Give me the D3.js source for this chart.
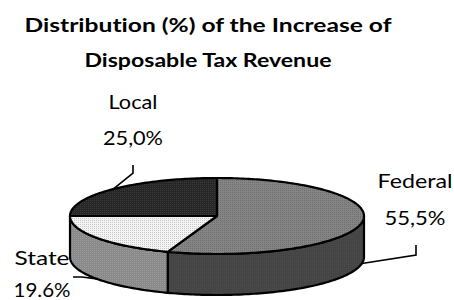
<!DOCTYPE html>
<html>
<head>
<meta charset="utf-8">
<script src="https://cdn.jsdelivr.net/npm/d3@7"></script>
<style>
body { margin: 0; background: #fff; }
svg { display: block; }
text { font-family: Lato, "DejaVu Sans", sans-serif; fill: #000; font-variant-ligatures: none; }
</style>
</head>
<body>
<svg id="chart" width="454" height="300"></svg>
<script>

// chart data
var titleLines = [ "Distribution (%) of the Increase of", "Disposable Tax Revenue" ];
var categories = [ "Federal", "State", "Local" ];
var shares = [ 55.5, 19.6, 25.0 ];
var shareLabels = [ "55,5%", "19.6%", "25,0%" ];

var width = 454, height = 300;
var cx = 217, cy = 216, rx = 147, ry = 38, depth = 41;

// top colour, dot colour, side colour
var topFill = [ "#858585", "#f4f4f4", "#262626" ];
var dotFill = [ "#6e6e6e", "#c8c8c8", "#3c3c3c" ];
var sideFill = [ "#444444", "#8a8a8a", "#1a1a1a" ];

var svg = d3.select("#chart");

var xScale = d3.scaleLinear().domain([ -1, 1 ]).range([ cx - rx, cx + rx ]);
var yScale = d3.scaleLinear().domain([ -1, 1 ]).range([ cy - ry, cy + ry ]);

function rim(a, dz) {
	return [ xScale(Math.sin(a)), yScale(-Math.cos(a)) + (dz || 0) ];
}

function arcPoints(a0, a1, dz) {
	var pts = [];
	var n = Math.max(2, Math.ceil(Math.abs(a1 - a0) / 0.02));
	for ( var i = 0; i <= n; i++) {
		pts.push(rim(a0 + (a1 - a0) * i / n, dz));
	}
	return pts;
}

// dither-like patterns
var defs = svg.append("defs");
categories.forEach(function(c, i) {
	["top", "side"].forEach(function(kind) {
		var p = defs.append("pattern") //
		.attr("id", "pat-" + kind + "-" + i) //
		.attr("width", 2).attr("height", 2) //
		.attr("patternUnits", "userSpaceOnUse");
		p.append("rect").attr("width", 2).attr("height", 2) //
		.attr("fill", kind == "top" ? topFill[i] : sideFill[i]);
		p.append("rect").attr("width", 1).attr("height", 1) //
		.attr("fill", kind == "top" ? dotFill[i] : d3.color(sideFill[i]).brighter(0.3));
	});
});

var pie = d3.pie().sort(null).value(function(d) {
	return d;
});
var slices = pie(shares);

// title
svg.selectAll("text.title").data(titleLines).enter().append("text") //
.attr("class", "title") //
.attr("x", 208) //
.attr("y", function(d, i) {
	return 32 + i * 35;
}) //
.attr("text-anchor", "middle") //
.attr("font-size", 19) //
.attr("font-weight", "bold") //
.attr("textLength", function(d, i) {
	return i == 0 ? 367 : 247;
}) //
.attr("lengthAdjust", "spacingAndGlyphs") //
.text(function(d) {
	return d;
});

// labels: anchor x, first baseline, line gap, text widths, leader elbow
var labelLayout = [
	{ x: 415, y: 188, gap: 37, w: [ 75, 61 ], elbow: [ 416, 245, 416, 255 ], dz: depth },
	{ x: 42, y: 265, gap: 32, w: [ 55, 57 ], elbow: [ 73, 277, 82, 277 ], dz: depth },
	{ x: 133, y: 109, gap: 36, w: [ 49, 60 ], elbow: [ 133, 165, 133, 173 ], dz: 0 }
];

// leader lines (drawn under the pie)
svg.selectAll("path.leader").data(slices).enter().append("path") //
.attr("class", "leader") //
.attr("fill", "none") //
.attr("stroke", "#000") //
.attr("stroke-width", 1.6) //
.attr("d", function(d, i) {
	var L = labelLayout[i];
	var mid = (d.startAngle + d.endAngle) / 2;
	var end = rim(mid, L.dz);
	return d3.line()([ [ L.elbow[0], L.elbow[1] ], [ L.elbow[2], L.elbow[3] ], end ]);
});

// side walls, only the front half is visible
var front0 = Math.PI / 2, front1 = Math.PI * 3 / 2;
svg.selectAll("path.side").data(slices).enter().append("path") //
.attr("class", "side") //
.attr("fill", function(d, i) {
	return "url(#pat-side-" + i + ")";
}) //
.attr("stroke", "#000") //
.attr("stroke-width", 2.2) //
.attr("stroke-linejoin", "round") //
.attr("d", function(d) {
	var a0 = Math.max(d.startAngle, front0);
	var a1 = Math.min(d.endAngle, front1);
	if (a1 <= a0) {
		return null;
	}
	var pts = arcPoints(a0, a1, 0).concat(arcPoints(a1, a0, depth));
	return d3.line()(pts) + "Z";
});

// top faces
svg.selectAll("path.top").data(slices).enter().append("path") //
.attr("class", "top") //
.attr("fill", function(d, i) {
	return "url(#pat-top-" + i + ")";
}) //
.attr("stroke", "#000") //
.attr("stroke-width", 2.2) //
.attr("stroke-linejoin", "round") //
.attr("d", function(d) {
	var pts = [ [ cx, cy ] ].concat(arcPoints(d.startAngle, d.endAngle, 0));
	return d3.line()(pts) + "Z";
});

// category and value labels
var labels = svg.selectAll("g.label").data(categories).enter().append("g") //
.attr("class", "label");

labels.append("text") //
.attr("x", function(d, i) {
	return labelLayout[i].x;
}) //
.attr("y", function(d, i) {
	return labelLayout[i].y;
}) //
.attr("text-anchor", "middle") //
.attr("font-size", 19) //
.attr("textLength", function(d, i) {
	return labelLayout[i].w[0];
}) //
.attr("lengthAdjust", "spacingAndGlyphs") //
.text(function(d) {
	return d;
});

labels.append("text") //
.attr("x", function(d, i) {
	return labelLayout[i].x;
}) //
.attr("y", function(d, i) {
	return labelLayout[i].y + labelLayout[i].gap;
}) //
.attr("text-anchor", "middle") //
.attr("font-size", 19) //
.attr("textLength", function(d, i) {
	return labelLayout[i].w[1];
}) //
.attr("lengthAdjust", "spacingAndGlyphs") //
.text(function(d, i) {
	return shareLabels[i];
});

</script>
</body>
</html>
